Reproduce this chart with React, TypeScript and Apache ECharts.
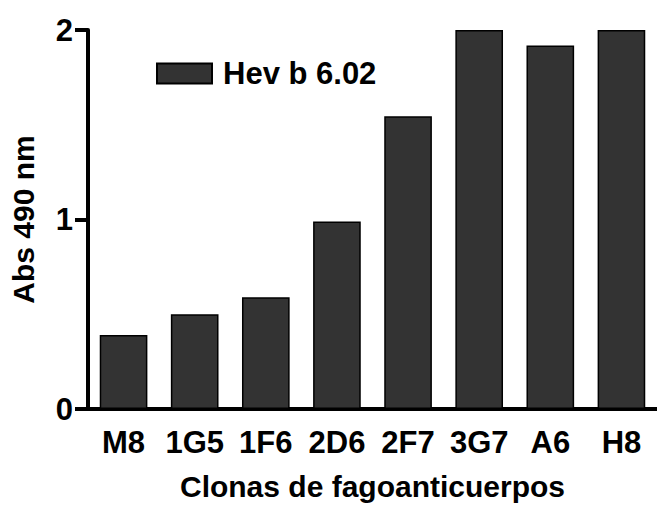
import React, { useEffect, useRef } from "react";
import * as echarts from "echarts";

const categories = ["M8", "1G5", "1F6", "2D6", "2F7", "3G7", "A6", "H8"];
const values = [0.39, 0.5, 0.59, 0.99, 1.545, 2.0, 1.918, 2.0];
const seriesName = "Hev b 6.02";
const yTicks = { min: 0, max: 2, interval: 1 };
const xTitle = "Clonas de fagoanticuerpos";
const yTitle = "Abs 490 nm";

const FONT = "'Liberation Sans', Arial, sans-serif";

export default function App() {
  const ref = useRef<HTMLDivElement>(null);
  useEffect(() => {
    if (!ref.current) return;
    const chart = echarts.init(ref.current, null, { renderer: "svg" });
    chart.setOption({
      animation: false,
      backgroundColor: "#ffffff",
      textStyle: { fontFamily: FONT },
      grid: { left: 87, top: 30, width: 576, height: 384, containLabel: false },
      legend: {
        left: 156,
        top: 58,
        padding: 0,
        itemWidth: 55,
        itemHeight: 20,
        icon: "rect",
        data: [seriesName],
        textStyle: {
          fontFamily: FONT,
          fontSize: 31,
          fontWeight: "bold",
          color: "#000",
          padding: [0, 0, 0, 6],
        },
      },
      xAxis: {
        type: "category",
        data: categories,
        name: xTitle,
        nameLocation: "middle",
        nameGap: 62,
        nameTextStyle: { fontFamily: FONT, fontSize: 30, fontWeight: "bold", color: "#000" },
        axisLine: { lineStyle: { color: "#000", width: 4 } },
        axisTick: { alignWithLabel: true, interval: 0, length: 12, lineStyle: { color: "#000", width: 4 } },
        axisLabel: { interval: 0, margin: 18, fontFamily: FONT, fontSize: 31, fontWeight: "bold", color: "#000" },
        splitLine: { show: false },
      },
      yAxis: {
        type: "value",
        min: yTicks.min,
        max: yTicks.max,
        interval: yTicks.interval,
        name: yTitle,
        nameLocation: "middle",
        nameGap: 50,
        nameTextStyle: { fontFamily: FONT, fontSize: 30, fontWeight: "bold", color: "#000" },
        axisLine: { show: true, lineStyle: { color: "#000", width: 4 } },
        axisTick: { show: true, length: 13, lineStyle: { color: "#000", width: 4 } },
        axisLabel: { margin: 15, fontFamily: FONT, fontSize: 31, fontWeight: "bold", color: "#000" },
        splitLine: { show: false },
      },
      series: [
        {
          name: seriesName,
          type: "bar",
          data: values,
          barCategoryGap: "33%",
          itemStyle: { color: "#333333", borderColor: "#000", borderWidth: 1.5 },
        },
      ],
    });
    return () => chart.dispose();
  }, []);
  return (
    <div
      ref={ref}
      style={{ position: "absolute", left: 0, top: 0, width: 657, height: 506 }}
    />
  );
}
